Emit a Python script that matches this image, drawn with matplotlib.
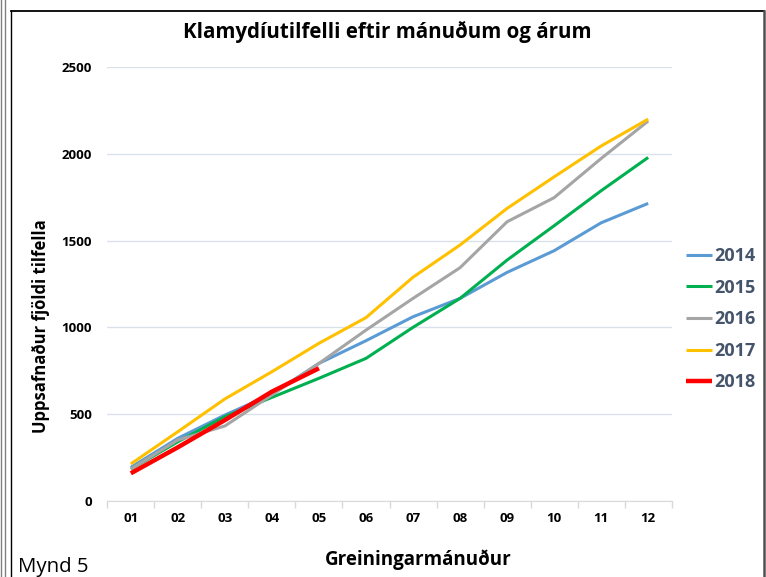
import matplotlib
matplotlib.use("Agg")
import matplotlib.pyplot as plt
from matplotlib.lines import Line2D
from matplotlib import font_manager as fm

months = ["01", "02", "03", "04", "05", "06", "07", "08", "09", "10", "11", "12"]
y2014 = [192, 360, 494, 615, 792, 923, 1061, 1167, 1317, 1442, 1603, 1715]
y2015 = [182, 340, 485, 596, 706, 821, 1000, 1167, 1388, 1586, 1788, 1980]
y2016 = [182, 350, 431, 610, 792, 984, 1167, 1344, 1609, 1748, 1974, 2190]
y2017 = [212, 398, 587, 744, 908, 1056, 1289, 1475, 1686, 1868, 2046, 2201]
y2018 = [158, 308, 465, 629, 764]
series = [("2014", y2014, "#5B9BD5", 2.2),
          ("2015", y2015, "#00B050", 2.2),
          ("2016", y2016, "#A5A5A5", 2.2),
          ("2017", y2017, "#FFC000", 2.2),
          ("2018", y2018, "#FF0000", 3.2)]
yticks = [0, 500, 1000, 1500, 2000, 2500]


def wnum(w):
    if isinstance(w, int):
        return w
    return {"bold": 700, "heavy": 800, "black": 900, "semibold": 600, "demibold": 600,
            "extra bold": 800, "ultrabold": 800, "normal": 400, "regular": 400}.get(str(w).lower(), 400)


def find_face(names, lo, hi):
    for cand in names:
        faces = [f for f in fm.fontManager.ttflist if f.name == cand and lo <= wnum(f.weight) <= hi
                 and f.style == "normal"]
        if faces:
            faces.sort(key=lambda f: abs(wnum(f.weight) - 700))
            return faces[0].fname
    return None


bold_path = find_face(["Open Sans", "Noto Sans", "Lato", "Roboto"], 650, 800)
reg_path = find_face(["Open Sans", "Noto Sans", "Lato"], 400, 400)


def bprop(size):
    if bold_path:
        return fm.FontProperties(fname=bold_path, size=size)
    return fm.FontProperties(family="DejaVu Sans", weight="bold", size=size)


def rprop(size):
    if reg_path:
        return fm.FontProperties(fname=reg_path, size=size)
    return fm.FontProperties(family="DejaVu Sans", size=size)


W, H = 766, 577
fig = plt.figure(figsize=(W / 100, H / 100), dpi=100)

# borders
for xx in (1.5, 5.0):
    fig.add_artist(Line2D([xx / W, xx / W], [0, 1], color="#808080", lw=1.0, transform=fig.transFigure))
fig.add_artist(Line2D([10.5 / W, 10.5 / W], [0, 1 - 10.5 / H], color="#000000", lw=1.0, transform=fig.transFigure))
fig.add_artist(Line2D([10.5 / W, 764 / W], [1 - 10.5 / H, 1 - 10.5 / H], color="#000000", lw=1.3, transform=fig.transFigure))
fig.add_artist(Line2D([764 / W, 764 / W], [0, 1 - 10.5 / H], color="#505050", lw=1.8, transform=fig.transFigure))

left, right = 107.3 / W, 671.7 / W
bottom, top = 1 - 500.7 / H, 1 - 67.3 / H
ax = fig.add_axes([left, bottom, right - left, top - bottom])

x = list(range(len(months)))
for name, vals, col, lw in series:
    ax.plot(x[:len(vals)], vals, color=col, lw=lw, label=name, solid_capstyle="butt", zorder=3)

ax.set_xlim(-0.5, len(months) - 0.5)
ax.set_ylim(0, 2500)
ax.set_yticks(yticks)
ax.set_yticklabels([str(v) for v in yticks], fontproperties=bprop(9.5))
ax.set_xticks(x)
ax.set_xticklabels(months, fontproperties=bprop(9.5))
ax.set_xticks([i - 0.5 for i in range(len(months) + 1)], minor=True)
ax.tick_params(axis="x", which="major", length=0, pad=8)
ax.tick_params(axis="x", which="minor", length=5, color="#D9D9D9", width=1)
ax.tick_params(axis="y", length=0, pad=11)
ax.grid(axis="y", color="#D9E1EA", lw=1)
ax.set_axisbelow(True)
for s in ["left", "right", "top"]:
    ax.spines[s].set_visible(False)
ax.spines["bottom"].set_color("#D9D9D9")
ax.spines["bottom"].set_zorder(2)

fig.text(387 / W, 1 - 32 / H, "Klamydíutilfelli eftir mánuðum og árum",
         ha="center", va="center", fontproperties=bprop(14.8))
fig.text(41 / W, 1 - 326 / H, "Uppsafnaður fjöldi tilfella", rotation=90,
         ha="center", va="center", fontproperties=bprop(12))
fig.text(418 / W, 1 - 560 / H, "Greiningarmánuður", ha="center", va="center",
         fontproperties=bprop(13.5))
fig.text(18 / W, 1 - 567 / H, "Mynd 5", ha="left", va="center", fontproperties=rprop(14.7))

leg = ax.legend(loc="upper left", bbox_to_anchor=(670 / W, 1 - 231 / H), bbox_transform=fig.transFigure,
                frameon=False, handlelength=1.45, handletextpad=0.12, labelspacing=0.75,
                prop=bprop(13))
for t in leg.get_texts():
    t.set_color("#44546A")

fig.savefig("out.png", dpi=100)
